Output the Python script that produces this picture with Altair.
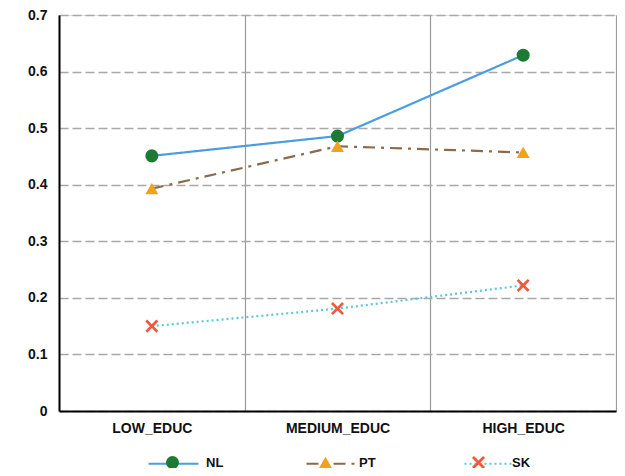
import altair as alt
import pandas as pd

# education levels on the x axis, one series per country
levels = ["LOW_EDUC", "MEDIUM_EDUC", "HIGH_EDUC"]
countries = ["NL", "PT", "SK"]
nl_values = [0.451, 0.486, 0.629]
pt_values = [0.393, 0.468, 0.457]
sk_values = [0.150, 0.181, 0.222]

line_colors = ["#4a9de0", "#8c6a4c", "#5ec6d9"]
marker_colors = ["#1d7a35", "#f0a11e", "#ee5a3c"]
line_dashes = [[1, 0], [12, 6, 3, 6], [2, 3]]
# filled "x" marker as a path in the -1..1 box
x_mark = "M-0.7,-1L0,-0.3L0.7,-1L1,-0.7L0.3,0L1,0.7L0.7,1L0,0.3L-0.7,1L-1,0.7L-0.3,0L-1,-0.7Z"
marker_shapes = ["circle", "triangle-up", x_mark]

rows = []
for country, vals in zip(countries, [nl_values, pt_values, sk_values]):
    for level, v in zip(levels, vals):
        rows.append({"level": level, "country": country, "marker": country, "share": v})
df = pd.DataFrame(rows)

FONT = "Liberation Sans"

x_enc = alt.X(
    "level:N",
    sort=levels,
    title=None,
    scale=alt.Scale(paddingInner=0, paddingOuter=0),
    axis=alt.Axis(
        labelAngle=0, labelFont=FONT, labelFontSize=14, labelFontWeight="bold",
        labelColor="#111", labelPadding=10, domainColor="#000", domainWidth=2,
        ticks=False, grid=True, tickBand="extent", gridColor="#9a9a9a", gridWidth=1.2,
    ),
)
y_enc = alt.Y(
    "share:Q",
    title=None,
    scale=alt.Scale(domain=[0, 0.7], nice=False),
    axis=alt.Axis(
        tickCount=7, labelExpr="datum.value == 0 ? '0' : format(datum.value, '.1f')",
        labelFont=FONT, labelFontSize=14, labelFontWeight="bold", labelColor="#111",
        labelPadding=12, domainColor="#000", domainWidth=2, ticks=False,
        gridColor="#a8a8a8", gridWidth=1.5, gridDash=[9, 4],
    ),
)

# line legend draws only the strokes (no labels); the marker legend sits on top of it
line_legend = alt.Legend(
    title=None, orient="none", direction="horizontal", legendX=88, legendY=422,
    symbolType="stroke", symbolSize=2500, symbolStrokeWidth=2.2,
    labelExpr="''", labelOffset=8, columnPadding=94,
    labelFont=FONT, labelFontSize=13, labelFontWeight="bold",
)
point_legend = alt.Legend(
    title=None, orient="none", direction="horizontal", legendX=106.5, legendY=440.5,
    symbolSize=170, symbolStrokeWidth=0, labelOffset=26.5, columnPadding=95,
    labelFont=FONT, labelFontSize=13, labelFontWeight="bold", labelColor="#111",
)

# lines take their domain from "country", markers from "marker",
# so the two legends stay apart and can be stacked on each other
lines = (
    alt.Chart(df)
    .mark_line(strokeWidth=2.2)
    .encode(
        x=x_enc,
        y=y_enc,
        stroke=alt.Stroke("country:N", scale=alt.Scale(range=line_colors), legend=line_legend),
        strokeDash=alt.StrokeDash("country:N", scale=alt.Scale(range=line_dashes), legend=line_legend),
    )
)

points = (
    alt.Chart(df)
    .mark_point(filled=True, size=170, opacity=1)
    .encode(
        x=x_enc,
        y=y_enc,
        fill=alt.Fill("marker:N", scale=alt.Scale(range=marker_colors), legend=point_legend),
        shape=alt.Shape("marker:N", scale=alt.Scale(range=marker_shapes), legend=point_legend),
    )
)

chart = (
    alt.layer(lines, points)
    .properties(
        width=557, height=396,
        autosize=alt.AutoSizeParams(type="none"),
        padding={"left": 51, "top": 7, "right": 1, "bottom": 57},
    )
    .configure_view(stroke=None)
    .configure(background="white")
)

chart.save("out.html", embed_options={"renderer": "svg", "actions": False})
